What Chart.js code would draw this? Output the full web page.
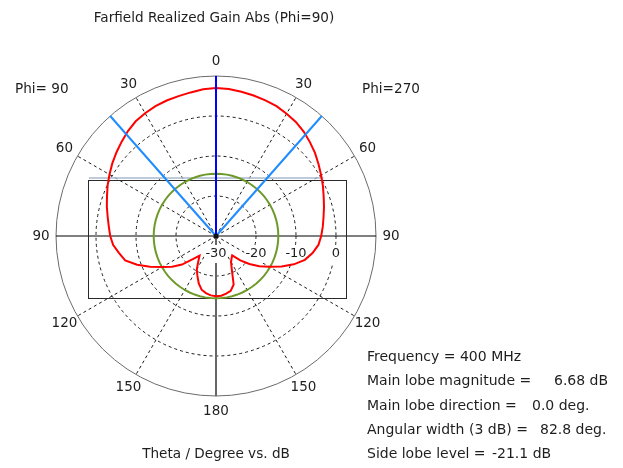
<!DOCTYPE html>
<html><head><meta charset="utf-8">
<script src="https://cdn.jsdelivr.net/npm/chart.js@4/dist/chart.umd.min.js"></script>
<style>html,body{margin:0;padding:0;background:#fff;}canvas{display:block;}</style>
</head><body>
<canvas id="c" width="623" height="468"></canvas>
<script>
// ---- data ----
const thetaDeg = [0,5,10,15,20,25,30,35,40,45,50,55,60,65,70,75,80,85,90,95,100,105,110,115,120,125,130,135,140,145,150,155,160,165,170,175,180];
// realized gain (dB) on the Phi=270 side (drawn on the right)
const gainPhi270 = [7.0,6.9,6.6,6.35,6.1,5.8,5.3,4.8,4.1,3.2,2.3,1.3,0.35,-0.5,-1.35,-2.05,-2.7,-3.2,-3.7,-4.3,-5.5,-7.0,-9.3,-11.9,-14.6,-16.8,-19.1,-21.4,-23.7,-23.2,-22.5,-20.6,-17.1,-15.8,-15.35,-15.0,-14.95];
// realized gain (dB) on the Phi=90 side (drawn on the left)
const gainPhi90  = [7.0,6.85,6.45,6.2,6.05,5.8,5.45,5.0,4.25,3.35,2.5,1.65,0.75,-0.1,-1.0,-1.75,-2.5,-3.1,-3.55,-4.2,-5.4,-6.5,-9.0,-11.8,-14.5,-16.6,-18.9,-21.8,-23.6,-22.3,-20.4,-19.0,-17.4,-16.1,-15.5,-15.1,-14.95];
const radialTicks = [-30,-20,-10,0];
const frequencyMHz = 400;
const mainLobeMagnitude = 6.68;   // dB
const mainLobeDirection = 0.0;    // deg
const angularWidth3dB = 82.8;     // deg
const sideLobeLevel = -21.1;      // dB (relative)
const boxX = [-32.0, 32.4];       // frame drawn by the tool (dB units from centre)
const boxY = [-15.5, 14.1];

// ---- derived tables ----
const rMin = -30, rMax = 10;
const labels = thetaDeg.concat(thetaDeg.slice(1, -1).reverse()).map(String);
const redData = gainPhi270.concat(gainPhi90.slice(1, -1).reverse());
const sideLobeAbs = mainLobeMagnitude + sideLobeLevel;
const greenData = labels.map(() => sideLobeAbs);

const FONT = '"DejaVu Sans", sans-serif';
const TXT = '#1e1e1e';

function unitPx(s, u) { // dB-units offset from centre -> pixels, via the radial scale
  const d = s.getDistanceFromCenterForValue(rMin + Math.abs(u));
  return u < 0 ? -d : d;
}

const overlayPlugin = {
  id: 'overlay',
  beforeDatasetsDraw(chart) {
    const s = chart.scales.r, ctx = chart.ctx;
    ctx.save();
    // frame
    const x0 = s.xCenter + unitPx(s, boxX[0]), x1 = s.xCenter + unitPx(s, boxX[1]);
    const y0 = s.yCenter - unitPx(s, boxY[1]), y1 = s.yCenter - unitPx(s, boxY[0]);
    ctx.strokeStyle = '#a9bacb'; ctx.lineWidth = 1.5;
    ctx.beginPath(); ctx.moveTo(x0 + 1, y0 - 1.5); ctx.lineTo(x1 - 22, y0 - 1.5); ctx.stroke();
    ctx.strokeStyle = '#2a2a2a'; ctx.lineWidth = 1;
    ctx.strokeRect(Math.round(x0) + 0.5, Math.round(y0) + 0.5, Math.round(x1 - x0), Math.round(y1 - y0));
    // radial tick labels
    ctx.font = '13px ' + FONT;
    ctx.textAlign = 'center'; ctx.textBaseline = 'middle';
    radialTicks.forEach(v => {
      const d = s.getDistanceFromCenterForValue(v);
      const x = s.xCenter + d, y = s.yCenter + 18;
      const t = String(v), w = ctx.measureText(t).width;
      ctx.fillStyle = '#fff'; ctx.fillRect(x - w / 2 - 1, y - 9, w + 2, 18);
      ctx.fillStyle = TXT; ctx.fillText(t, x, y);
    });
    // angle labels
    ctx.font = '13.5px ' + FONT;
    labels.forEach((lab, i) => {
      if (Number(lab) % 30 !== 0) return;
      const p = s.getPointPosition(i, s.drawingArea + 15);
      ctx.fillText(lab, p.x, p.y);
    });
    ctx.restore();
  },
  afterDatasetsDraw(chart) {
    const s = chart.scales.r, ctx = chart.ctx;
    const n = labels.length, outer = s.getDistanceFromCenterForValue(rMax);
    const ray = (deg, color) => {
      const p = s.getPointPosition(deg * n / 360, outer);
      ctx.strokeStyle = color; ctx.lineWidth = 2;
      ctx.beginPath(); ctx.moveTo(s.xCenter, s.yCenter); ctx.lineTo(p.x, p.y); ctx.stroke();
    };
    ctx.save();
    ray(mainLobeDirection - angularWidth3dB / 2, '#1e8cff');
    ray(mainLobeDirection + angularWidth3dB / 2, '#1e8cff');
    ray(mainLobeDirection, '#0000ff');
    ctx.fillStyle = '#111';
    ctx.beginPath(); ctx.arc(s.xCenter, s.yCenter, 2.5, 0, Math.PI * 2); ctx.fill();
    ctx.restore();
  },
  afterDraw(chart) {
    const ctx = chart.ctx;
    ctx.save();
    ctx.fillStyle = TXT;
    ctx.textBaseline = 'alphabetic';
    ctx.font = '13.6px ' + FONT;
    ctx.textAlign = 'center';
    ctx.fillText('Farfield Realized Gain Abs (Phi=90)', 214, 22);
    ctx.fillText('Theta / Degree vs. dB', 216, 458);
    ctx.textAlign = 'left';
    ctx.fillText('Phi= 90', 15, 93);
    ctx.fillText('Phi=270', 362, 93);
    ctx.font = '14px ' + FONT;
    const lines = [
      ['Frequency = ' + frequencyMHz + ' MHz', null, 361],
      ['Main lobe magnitude =', mainLobeMagnitude.toFixed(2) + ' dB', 385],
      ['Main lobe direction =', mainLobeDirection.toFixed(1) + ' deg.', 410],
      ['Angular width (3 dB) =', angularWidth3dB.toFixed(1) + ' deg.', 434],
      ['Side lobe level =', sideLobeLevel.toFixed(1) + ' dB', 458]
    ];
    const valX = [0, 554, 532, 540, 492];
    lines.forEach((l, i) => {
      ctx.fillText(l[0], 367, l[2]);
      if (l[1]) ctx.fillText(l[1], valX[i], l[2]);
    });
    ctx.restore();
  }
};

function thetaAt(c) { return Number(labels[c.index]); }

new Chart(document.getElementById('c'), {
  type: 'radar',
  data: {
    labels: labels,
    datasets: [
      {label: 'Realized Gain', data: redData, borderColor: '#ff0000', borderWidth: 2, fill: false, pointRadius: 0, tension: 0},
      {label: 'side lobe level', data: greenData, borderColor: '#6e9a2c', borderWidth: 2, fill: false, pointRadius: 0, tension: 0}
    ]
  },
  options: {
    responsive: false,
    animation: false,
    events: [],
    layout: {padding: {left: 56, top: 76, right: 247, bottom: 72}},
    plugins: {legend: {display: false}, tooltip: {enabled: false}, title: {display: false}},
    scales: {
      r: {
        min: rMin, max: rMax,
        ticks: {display: false, stepSize: 10},
        pointLabels: {display: false},
        grid: {circular: true, lineWidth: 1, color: c => (c.tick && c.tick.value === rMax) ? '#6a6a6a' : '#1a1a1a'},
        border: {dash: c => (c.tick && c.tick.value === rMax) ? [] : [3, 3]},
        angleLines: {
          display: true,
          color: c => { const th = thetaAt(c); if (th % 30 !== 0 || th === 0) return 'rgba(0,0,0,0)'; if (th === 90) return '#000'; if (th === 180) return '#666'; return '#1a1a1a'; },
          lineWidth: c => { const th = thetaAt(c); if (th % 30 !== 0 || th === 0) return 0; return th === 180 ? 2 : 1; },
          borderDash: c => { const th = thetaAt(c); return (th === 90 || th === 180) ? [] : [3, 3]; }
        }
      }
    }
  },
  plugins: [overlayPlugin]
});
</script>
</body></html>
